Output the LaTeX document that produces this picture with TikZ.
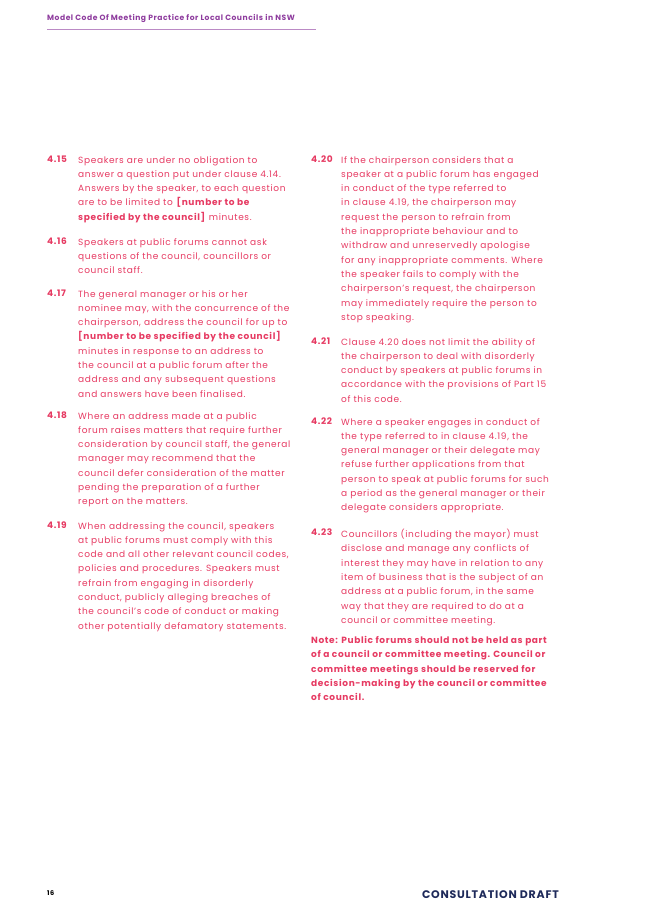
\documentclass[tikz,border=0pt]{standalone}
\usepackage{fontspec}
\setmainfont{Poppins}[LetterSpace=7]
\definecolor{txt}{HTML}{E63A62}
\definecolor{hdr}{HTML}{8E3C9E}
\definecolor{navy}{HTML}{1E2A5A}
\begin{document}
\begin{tikzpicture}[x=1pt,y=-1pt,
  para/.style={anchor=north west,align=left,inner sep=0,text=txt,font=\fontsize{9}{14.3}\selectfont},
  num/.style={anchor=north west,inner sep=0,text=txt,font=\fontsize{9}{14.3}\selectfont\bfseries}]
\useasboundingbox (0,0) rectangle (653,924);
\node[anchor=west,inner sep=0,text=hdr,font=\fontsize{7.6}{9}\selectfont\bfseries] (h) at (47,18) {Model Code Of Meeting Practice for Local Councils in NSW};
\draw[hdr!60,line width=0.8] (47,29) -- (316,29);
\newcommand{\B}[1]{\textbf{#1}}
\node[num] (n15) at (47,156) {4.15};
\node[para] (p15) at (78,156) {Speakers are under no obligation to\\answer a question put under clause 4.14.\\Answers by the speaker, to each question\\are to be limited to \B{[number to be}\\\B{specified by the council]} minutes.};
\node[num] (n16) at (47,238) {4.16};
\node[para] (p16) at (78,238) {Speakers at public forums cannot ask\\questions of the council, councillors or\\council staff.};
\node[num] (n17) at (47,290) {4.17};
\node[para] (p17) at (78,290) {The general manager or his or her\\nominee may, with the concurrence of the\\chairperson, address the council for up to\\\B{[number to be specified by the council]}\\minutes in response to an address to\\the council at a public forum after the\\address and any subsequent questions\\and answers have been finalised.};
\node[num] (n18) at (47,412) {4.18};
\node[para] (p18) at (78,412) {Where an address made at a public\\forum raises matters that require further\\consideration by council staff, the general\\manager may recommend that the\\council defer consideration of the matter\\pending the preparation of a further\\report on the matters.};
\node[num] (n19) at (47,522) {4.19};
\node[para] (p19) at (78,522) {When addressing the council, speakers\\at public forums must comply with this\\code and all other relevant council codes,\\policies and procedures. Speakers must\\refrain from engaging in disorderly\\conduct, publicly alleging breaches of\\the council's code of conduct or making\\other potentially defamatory statements.};
\node[num] (n20) at (311,156) {4.20};
\node[para] (p20) at (341,156) {If the chairperson considers that a\\speaker at a public forum has engaged\\in conduct of the type referred to\\in clause 4.19, the chairperson may\\request the person to refrain from\\the inappropriate behaviour and to\\withdraw and unreservedly apologise\\for any inappropriate comments. Where\\the speaker fails to comply with the\\chairperson's request, the chairperson\\may immediately require the person to\\stop speaking.};
\node[num] (n21) at (311,338) {4.21};
\node[para] (p21) at (341,338) {Clause 4.20 does not limit the ability of\\the chairperson to deal with disorderly\\conduct by speakers at public forums in\\accordance with the provisions of Part 15\\of this code.};
\node[num] (n22) at (311,418) {4.22};
\node[para] (p22) at (341,418) {Where a speaker engages in conduct of\\the type referred to in clause 4.19, the\\general manager or their delegate may\\refuse further applications from that\\person to speak at public forums for such\\a period as the general manager or their\\delegate considers appropriate.};
\node[num] (n23) at (311,529) {4.23};
\node[para] (p23) at (341,529) {Councillors (including the mayor) must\\disclose and manage any conflicts of\\interest they may have in relation to any\\item of business that is the subject of an\\address at a public forum, in the same\\way that they are required to do at a\\council or committee meeting.};
\node[para,font=\fontsize{9}{14.3}\selectfont\bfseries] (note) at (311,636) {Note: Public forums should not be held as part\\of a council or committee meeting. Council or\\committee meetings should be reserved for\\decision-making by the council or committee\\of council.};
\node[anchor=west,inner sep=0,font=\fontsize{6.5}{8}\selectfont\bfseries] (pg) at (47,893) {16};
\node[anchor=east,inner sep=0,text=navy,font=\fontsize{11}{13}\selectfont\bfseries] (cd) at (559,895) {CONSULTATION DRAFT};
\end{tikzpicture}
\end{document}
